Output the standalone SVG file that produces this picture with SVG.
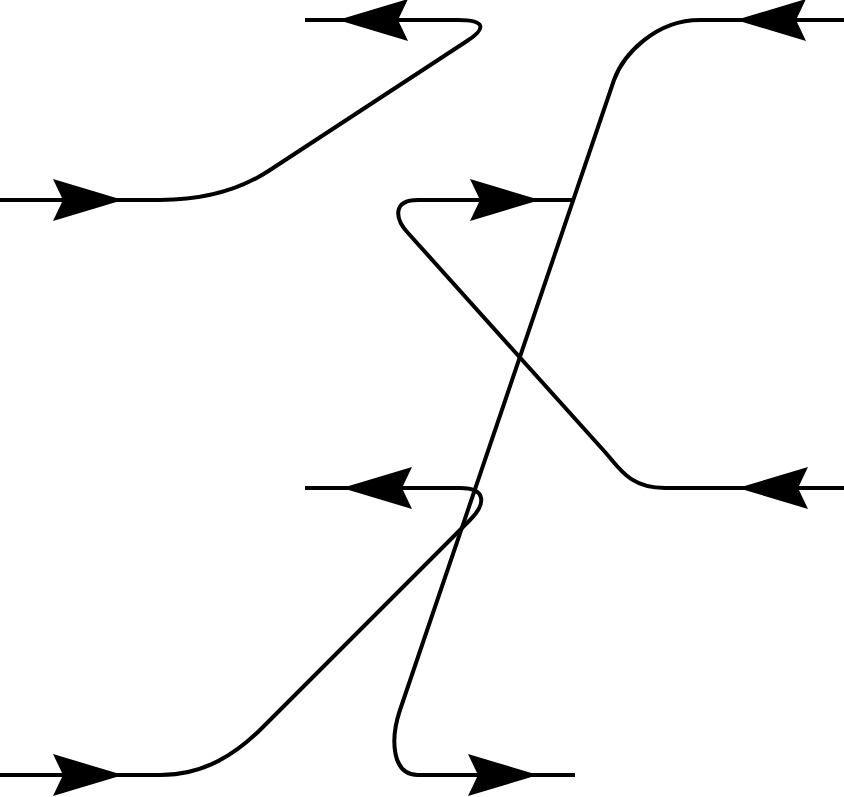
<svg xmlns="http://www.w3.org/2000/svg" xmlns:xlink="http://www.w3.org/1999/xlink" width="844" height="797" viewBox="0 0 844 797">
  <style>
    .wire { fill: none; stroke: #000; stroke-width: 4; stroke-linejoin: round; }
    .head { fill: #000; stroke: none; }
  </style>
  <defs>
    <path id="ah" class="head" d="M0,0 L-70,-21 L-60,0 L-70,21 Z"/>
  </defs>
  <rect width="844" height="797" fill="#fff"/>
  <g id="connectors">
    <g id="strand-a">
      <path class="wire" d="M0,200 H160 C205,200 240,190 270,170 L467,41 C487,28 485,20 458,20 H305"/>
      <use xlink:href="#ah" href="#ah" transform="translate(123,200)"/>
      <use xlink:href="#ah" href="#ah" transform="translate(338,20) rotate(180)"/>
    </g>
    <g id="strand-b">
      <path class="wire" d="M844,20 H700 C655,20 623,55 614,80 L400,710 C390,740 392,775 418,775 H575"/>
      <use xlink:href="#ah" href="#ah" transform="translate(736,20) rotate(180)"/>
      <use xlink:href="#ah" href="#ah" transform="translate(538,775)"/>
    </g>
    <g id="strand-c">
      <path class="wire" d="M844,488 H665 C630,488 620,469 605,452 L408,233 C395,219 392,200 418,200 H572"/>
      <use xlink:href="#ah" href="#ah" transform="translate(738,488) rotate(180)"/>
      <use xlink:href="#ah" href="#ah" transform="translate(540,200)"/>
    </g>
    <g id="strand-d">
      <path class="wire" d="M0,775 H160 C205,775 237,753 262,728 L470,520 C485,505 488,488 460,488 H305"/>
      <use xlink:href="#ah" href="#ah" transform="translate(123,775)"/>
      <use xlink:href="#ah" href="#ah" transform="translate(342,488) rotate(180)"/>
    </g>
  </g>
</svg>
